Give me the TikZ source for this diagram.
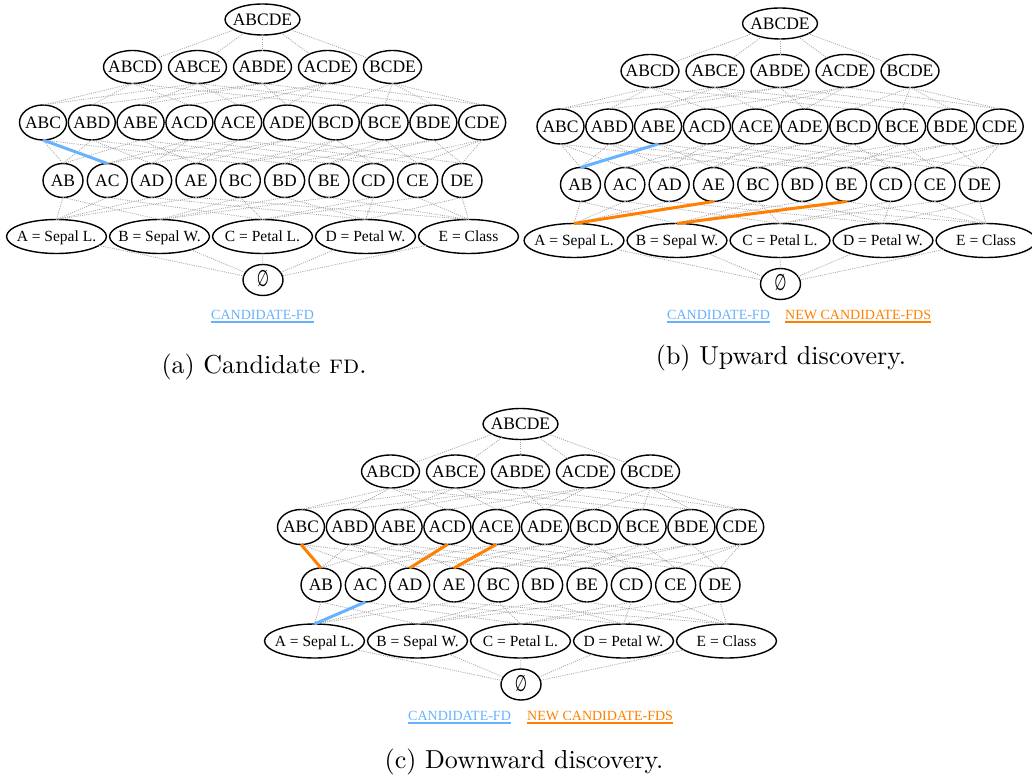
\documentclass[tikz,border=0pt]{standalone}
\usepackage{fontspec}
\usepackage{graphicx}
\usetikzlibrary{shapes.geometric}
\newfontfamily\gvfont{Liberation Serif}
\newfontfamily\symfont{DejaVu Sans}
\newfontfamily\capfont{lmroman10-regular.otf}[SmallCapsFont=lmromancaps10-regular.otf]
\definecolor{fdblue}{RGB}{102,178,255}
\definecolor{fdorange}{RGB}{255,128,0}
\definecolor{edgegray}{RGB}{165,165,165}
% centred label that does not widen the ellipse
\newcommand\lbl[1]{\makebox[0pt]{#1}}

\tikzset{
  setnode/.style={ellipse, draw=black, line width=1.4pt, inner sep=0pt, outer sep=0pt,
    text height=11.5pt, text depth=0pt, font=\gvfont\fontsize{17.5}{20}\selectfont},
  lvlfive/.style={setnode, minimum width=75pt, minimum height=31pt},
  lvlfour/.style={setnode, minimum width=58pt, minimum height=33pt},
  lvlthree/.style={setnode, minimum width=47pt, minimum height=35pt},
  lvltwo/.style={setnode, minimum width=40pt, minimum height=34pt},
  lvlone/.style={setnode, minimum width=100pt, minimum height=34pt,
    text height=10.5pt, font=\gvfont\fontsize{15.5}{18}\selectfont},
  lvlzero/.style={setnode, minimum width=40pt, minimum height=31pt, text height=13pt},
  latedge/.style={draw=edgegray, line width=0.8pt, dash pattern=on 1pt off 1.2pt},
  candfd/.style={draw=fdblue, line width=3pt},
  newfd/.style={draw=fdorange, line width=3pt},
  legendtxt/.style={inner sep=0pt, anchor=base west, font=\gvfont\fontsize{14}{16}\selectfont},
  capt/.style={inner sep=0pt, anchor=base, font=\capfont\fontsize{26}{30}\selectfont},
  uline/.style={line width=2pt},
}

% attribute lattice of {A,B,C,D,E}; #1 = name prefix, (#2,#3) = position of the top node
\newcommand\drawlattice[3]{%
\begin{scope}[shift={(#2,#3)}]
  \node[lvlfive] (#1-ABCDE) at (0,0) {\lbl{ABCDE}};
  \foreach \n [count=\i from 0] in {ABCD,ABCE,ABDE,ACDE,BCDE}
    \node[lvlfour] (#1-\n) at ({-130+65*\i},47.5) {\lbl{\n}};
  \foreach \n [count=\i from 0] in {ABC,ABD,ABE,ACD,ACE,ADE,BCD,BCE,BDE,CDE}
    \node[lvlthree] (#1-\n) at ({-219.5+48.8*\i},103) {\lbl{\n}};
  \foreach \n [count=\i from 0] in {AB,AC,AD,AE,BC,BD,BE,CD,CE,DE}
    \node[lvltwo] (#1-\n) at ({-199.5+44.33*\i},161) {\lbl{\n}};
  \foreach \n/\t [count=\i from 0] in {A/A = Sepal L.,B/B = Sepal W.,C/C = Petal L.,D/D = Petal W.,E/E = Class}
    \node[lvlone] (#1-\n) at ({-206+103*\i},217) {\lbl{\t}};
  \node[lvlzero] (#1-0) at (0.5,260.5) {\lbl{\symfont\scalebox{0.8}[1.3]{∅}}};
  % inclusion edges
  \foreach \v in {ABCD,ABCE,ABDE,ACDE,BCDE}
    \draw[latedge] (#1-ABCDE) -- (#1-\v);
  \foreach \u/\vs in {ABCD/{ABC,ABD,ACD,BCD},ABCE/{ABC,ABE,ACE,BCE},ABDE/{ABD,ABE,ADE,BDE},
      ACDE/{ACD,ACE,ADE,CDE},BCDE/{BCD,BCE,BDE,CDE},
      ABC/{AB,AC,BC},ABD/{AB,AD,BD},ABE/{AB,AE,BE},ACD/{AC,AD,CD},ACE/{AC,AE,CE},
      ADE/{AD,AE,DE},BCD/{BC,BD,CD},BCE/{BC,BE,CE},BDE/{BD,BE,DE},CDE/{CD,CE,DE},
      AB/{A,B},AC/{A,C},AD/{A,D},AE/{A,E},BC/{B,C},BD/{B,D},BE/{B,E},CD/{C,D},CE/{C,E},DE/{D,E}}
    \foreach \v in \vs
      \draw[latedge] (#1-\u.south) -- (#1-\v.north);
  \foreach \u in {A,B,C,D,E}
    \draw[latedge] (#1-\u) -- (#1-0);
\end{scope}}

\begin{document}
\begin{tikzpicture}[x=1pt, y=-1pt]
  \useasboundingbox (0,0) rectangle (1032,775);

  % (a) candidate FD
  \drawlattice{a}{262.5}{19.5}
  \draw[candfd] (a-ABC.south) -- (a-AC.north);
  \node[legendtxt, text=fdblue] (a-l1) at (211,319) {CANDIDATE-FD};
  \draw[uline, fdblue] ([yshift=-2.6pt]a-l1.base west) -- ([yshift=-2.6pt]a-l1.base east);
  \node[capt] (a-cap) at (264,373) {(a) Candidate \textsc{fd}.};

  % (b) upward discovery
  \drawlattice{b}{780}{23.5}
  \draw[candfd] (b-ABE.south) -- (b-AB.north);
  \draw[newfd] (b-AE.south) -- (b-A.north);
  \draw[newfd] (b-BE.south) -- (b-B.north);
  \node[legendtxt, text=fdblue] (b-l1) at (667,319) {CANDIDATE-FD};
  \node[legendtxt, text=fdorange] (b-l2) at (785,319) {NEW CANDIDATE-FDS};
  \draw[uline, fdblue] ([yshift=-2.6pt]b-l1.base west) -- ([yshift=-2.6pt]b-l1.base east);
  \draw[uline, fdorange] ([yshift=-2.6pt]b-l2.base west) -- ([yshift=-2.6pt]b-l2.base east);
  \node[capt] (b-cap) at (781,364) {(b) Upward discovery.};

  % (c) downward discovery
  \drawlattice{c}{520.5}{424}
  \draw[candfd] (c-AC.south) -- (c-A.north);
  \draw[newfd] (c-ABC.south) -- (c-AB.north);
  \draw[newfd] (c-ACD.south) -- (c-AD.north);
  \draw[newfd] (c-ACE.south) -- (c-AE.north);
  \node[legendtxt, text=fdblue] (c-l1) at (408,720) {CANDIDATE-FD};
  \node[legendtxt, text=fdorange] (c-l2) at (527,720) {NEW CANDIDATE-FDS};
  \draw[uline, fdblue] ([yshift=-2.6pt]c-l1.base west) -- ([yshift=-2.6pt]c-l1.base east);
  \draw[uline, fdorange] ([yshift=-2.6pt]c-l2.base west) -- ([yshift=-2.6pt]c-l2.base east);
  \node[capt] (c-cap) at (524,768) {(c) Downward discovery.};
\end{tikzpicture}
\end{document}
